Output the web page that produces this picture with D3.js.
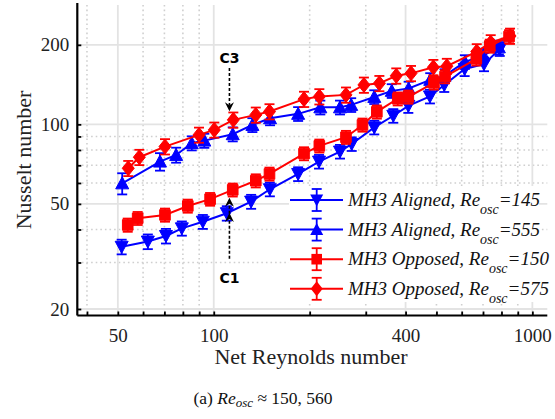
<!DOCTYPE html>
<html>
<head>
<meta charset="utf-8">
<script src="https://cdnjs.cloudflare.com/ajax/libs/d3/7.8.5/d3.min.js"></script>
<style>
    body { margin: 0; background: #fff; }
</style>
</head>
<body>
<div id="chart"></div>
<script>
// values
const reAligned145 = [51.4, 62.1, 70.8, 79.4, 92.4, 109.9, 131, 150, 184, 214, 249, 271, 319, 366, 408, 477, 529, 613, 705, 790];
const nuAligned145 = [34.4, 36.0, 37.8, 40.4, 42.8, 46.1, 51.0, 56.8, 64.9, 72.3, 78.9, 84.3, 97.4, 107.8, 117.5, 127.6, 141, 162, 169, 193];
const errAligned145 = [2.2, 2.3, 2.4, 2.5, 2.6, 2.9, 3.1, 3.4, 3.9, 4.3, 4.7, 5.0, 5.8, 6.4, 7.0, 7.6, 8.4, 9.7, 10.1, 11.5];

const reAligned555 = [51.6, 67.8, 76.2, 85.3, 93.4, 114.7, 132.2, 150.2, 184, 216, 249, 270, 319, 362, 409, 478, 530, 614, 702, 785];
const nuAligned555 = [59.8, 72.3, 76.6, 84.9, 86.8, 91.8, 99.5, 105.5, 109.6, 116, 116, 118.5, 127, 133.9, 136.8, 147.4, 152.6, 172.4, 182.4, 195.7];
const errAligned555 = [5.5, 5.5, 5.0, 5.2, 5.3, 5.6, 6.0, 6.3, 6.6, 7.0, 7.0, 7.1, 7.6, 8.0, 8.2, 8.8, 9.1, 10.3, 10.9, 11.7];

const reOpposed150 = [53.7, 57.7, 70.3, 82.9, 97.4, 114.7, 135.5, 149.6, 192, 214.5, 260, 293, 325, 378, 408, 491, 532, 667, 735, 845];
const nuOpposed150 = [41.6, 44.1, 45.4, 49.1, 52.1, 56.5, 61.2, 64.9, 77.5, 82.9, 89.4, 99.5, 111.5, 125, 127, 143.6, 151.7, 177, 198, 215];
const errOpposed150 = [2.4, 2.5, 2.6, 2.8, 2.9, 3.2, 3.5, 3.7, 4.4, 4.7, 5.1, 5.7, 6.4, 7.1, 7.3, 8.2, 8.7, 10.1, 11.3, 12.3];

const reOpposed575 = [53.9, 58.4, 70.3, 89.9, 100.4, 115.2, 135.5, 149.6, 192, 214.5, 260, 296, 331, 374, 416, 489, 539, 669, 740, 851];
const nuOpposed575 = [68.2, 75.1, 82.4, 91.2, 95.3, 104, 108.6, 111.8, 124.6, 127.4, 129.3, 141, 143, 152.7, 156, 164.4, 166, 188.6, 204, 216];
const errOpposed575 = [4.5, 5.0, 5.5, 6.0, 6.3, 6.9, 7.2, 7.4, 8.3, 8.5, 8.6, 9.4, 9.5, 10.2, 10.4, 11.0, 11.1, 12.6, 13.6, 14.4];

const seriesNames = ["MH3 Aligned, Re|osc|=145", "MH3 Aligned, Re|osc|=555", "MH3 Opposed, Re|osc|=150", "MH3 Opposed, Re|osc|=575"];

const xTickLabels = [50, 100, 400, 1000];
const xMinorTicks = [40, 60, 70, 80, 90, 200, 300, 500, 600, 700, 800, 900];
const yTickLabels = [20, 50, 100, 200];
const yMinorTicks = [30, 40, 60, 70, 80, 90];

const annotC3 = {label: "C3", re: 112, to: 112};
const annotC1 = {label: "C1", re: 112, from: 31, to: [46.2, 52.8]};

const SERIF = "'Liberation Serif', 'Times New Roman', serif";

let series = [
    {name: seriesNames[0], re: reAligned145, nu: nuAligned145, err: errAligned145, color: "#0000ff", marker: "down"},
    {name: seriesNames[1], re: reAligned555, nu: nuAligned555, err: errAligned555, color: "#0000ff", marker: "up"},
    {name: seriesNames[2], re: reOpposed150, nu: nuOpposed150, err: errOpposed150, color: "#ff0000", marker: "square"},
    {name: seriesNames[3], re: reOpposed575, nu: nuOpposed575, err: errOpposed575, color: "#ff0000", marker: "diamond"}
];

let width = 555, height = 419;
let plot = {left: 77.3, right: 547.3, top: 3, bottom: 315.5};

let svg = d3.select("#chart")
    .append("svg")
    .attr("width", width)
    .attr("height", height);

let x = d3.scaleLog()
    .domain([37.3, 1114])
    .range([plot.left, plot.right]);

let y = d3.scaleLog()
    .domain([18.9, 288])
    .range([plot.bottom, plot.top]);

// grid
let grid = svg.append("g");
grid.selectAll(".xminor")
    .data(xMinorTicks)
    .enter()
    .append("line")
    .attr("x1", d => x(d)).attr("x2", d => x(d))
    .attr("y1", plot.top + 2).attr("y2", plot.bottom)
    .attr("stroke", "#cfcfcf")
    .attr("stroke-width", 1.6)
    .attr("stroke-dasharray", "1.6,3");
grid.selectAll(".yminor")
    .data(yMinorTicks)
    .enter()
    .append("line")
    .attr("x1", plot.left).attr("x2", plot.right)
    .attr("y1", d => y(d)).attr("y2", d => y(d))
    .attr("stroke", "#cfcfcf")
    .attr("stroke-width", 1.6)
    .attr("stroke-dasharray", "1.6,3");
grid.selectAll(".xmajor")
    .data(xTickLabels)
    .enter()
    .append("line")
    .attr("x1", d => x(d)).attr("x2", d => x(d))
    .attr("y1", plot.top + 2).attr("y2", plot.bottom)
    .attr("stroke", "#e3e3e3")
    .attr("stroke-width", 1.8);
grid.selectAll(".ymajor")
    .data(yTickLabels)
    .enter()
    .append("line")
    .attr("x1", plot.left).attr("x2", plot.right)
    .attr("y1", d => y(d)).attr("y2", d => y(d))
    .attr("stroke", "#e3e3e3")
    .attr("stroke-width", 1.8);

// axes
let xAxis = svg.append("g")
    .attr("transform", `translate(0, ${plot.bottom})`)
    .call(d3.axisBottom(x)
        .tickValues(xTickLabels.concat(xMinorTicks))
        .tickSize(-4)
        .tickPadding(9)
        .tickFormat(d => xTickLabels.includes(d) ? d : ""));
xAxis.select(".domain").attr("stroke-width", 2.2).attr("d", `M${plot.left},0H${plot.right}`);
xAxis.selectAll(".tick line").attr("stroke-width", 1.8);
xAxis.selectAll(".tick text")
    .style("font-family", SERIF)
    .style("font-size", "19px")
    .attr("fill", "#222")
    .attr("dy", "0.9em");

let yAxis = svg.append("g")
    .attr("transform", `translate(${plot.left}, 0)`)
    .call(d3.axisLeft(y)
        .tickValues(yTickLabels.concat(yMinorTicks))
        .tickSize(-4)
        .tickPadding(8)
        .tickFormat(d => yTickLabels.includes(d) ? d : ""));
yAxis.select(".domain").attr("stroke-width", 2.2).attr("d", `M0,${plot.bottom}V${plot.top}`);
yAxis.selectAll(".tick line").attr("stroke-width", 1.8);
yAxis.selectAll(".tick text")
    .style("font-family", SERIF)
    .style("font-size", "19px")
    .attr("fill", "#222");

// axis titles
svg.append("text")
    .attr("x", 311)
    .attr("y", 364)
    .attr("text-anchor", "middle")
    .style("font-family", SERIF)
    .style("font-size", "22px")
    .attr("fill", "#222")
    .text("Net Reynolds number");

svg.append("text")
    .attr("transform", "translate(31, 160) rotate(-90)")
    .attr("text-anchor", "middle")
    .style("font-family", SERIF)
    .style("font-size", "22px")
    .attr("fill", "#222")
    .text("Nusselt number");

// caption
let cap = svg.append("text")
    .attr("x", 263)
    .attr("y", 404)
    .attr("text-anchor", "middle")
    .style("font-family", SERIF)
    .style("font-size", "17.5px")
    .attr("fill", "#111");
cap.append("tspan").text("(a) ");
cap.append("tspan").style("font-style", "italic").text("Re");
cap.append("tspan").style("font-style", "italic").style("font-size", "13px").attr("dy", 3).text("osc");
cap.append("tspan").attr("dy", -3).text(" \u2248 150,  560");

// markers
function markerPath(type) {
    if (type === "down") return "M-6.5,-5.5L6.5,-5.5L0,6.5Z";
    if (type === "up") return "M0,-6.5L6.5,5.5L-6.5,5.5Z";
    if (type === "square") return "M-5.3,-5.3H5.3V5.3H-5.3Z";
    return "M0,-7.5L6,0L0,7.5L-6,0Z";
}

let line = d3.line()
    .x(d => x(d.re))
    .y(d => y(d.nu));

let processData = series.map(s => {
    return {
        color: s.color,
        marker: s.marker,
        points: s.re.map((r, i) => ({re: r, nu: s.nu[i], err: s.err[i]}))
    };
});

processData.forEach(s => {
    let g = svg.append("g");
    g.append("path")
        .attr("d", line(s.points))
        .attr("fill", "none")
        .attr("stroke", s.color)
        .attr("stroke-width", 2);

    let bars = g.selectAll(".bar")
        .data(s.points)
        .enter()
        .append("g")
        .attr("stroke", s.color)
        .attr("stroke-width", 1.8);
    bars.append("line")
        .attr("x1", d => x(d.re)).attr("x2", d => x(d.re))
        .attr("y1", d => y(d.nu - d.err)).attr("y2", d => y(d.nu + d.err));
    bars.append("line")
        .attr("x1", d => x(d.re) - 5).attr("x2", d => x(d.re) + 5)
        .attr("y1", d => y(d.nu - d.err)).attr("y2", d => y(d.nu - d.err));
    bars.append("line")
        .attr("x1", d => x(d.re) - 5).attr("x2", d => x(d.re) + 5)
        .attr("y1", d => y(d.nu + d.err)).attr("y2", d => y(d.nu + d.err));

    g.selectAll(".mark")
        .data(s.points)
        .enter()
        .append("path")
        .attr("d", markerPath(s.marker))
        .attr("transform", d => `translate(${x(d.re)}, ${y(d.nu)})`)
        .attr("fill", s.color)
        .attr("stroke", s.color)
        .attr("stroke-width", 1);
});

// annotations
function arrowHead(g, ax, ay, dir) {
    // dir = 1 points down, -1 points up
    g.append("path")
        .attr("d", `M${ax},${ay}L${ax - 4.5},${ay - dir * 9}L${ax},${ay - dir * 6}L${ax + 4.5},${ay - dir * 9}Z`)
        .attr("fill", "#000");
}

let ann = svg.append("g");
let c3x = x(annotC3.re);
ann.append("text")
    .attr("x", c3x).attr("y", 63)
    .attr("text-anchor", "middle")
    .style("font-family", "'DejaVu Sans', sans-serif")
    .style("font-weight", "bold")
    .style("font-size", "14px")
    .text(annotC3.label);
ann.append("line")
    .attr("x1", c3x).attr("x2", c3x)
    .attr("y1", 68).attr("y2", y(annotC3.to) - 6)
    .attr("stroke", "#000").attr("stroke-width", 1.6)
    .attr("stroke-dasharray", "3,2");
arrowHead(ann, c3x, y(annotC3.to), 1);

let c1x = x(annotC1.re);
ann.append("text")
    .attr("x", c1x).attr("y", 283)
    .attr("text-anchor", "middle")
    .style("font-family", "'DejaVu Sans', sans-serif")
    .style("font-weight", "bold")
    .style("font-size", "14px")
    .text(annotC1.label);
ann.append("line")
    .attr("x1", c1x).attr("x2", c1x)
    .attr("y1", y(annotC1.from)).attr("y2", y(annotC1.to[1]) + 6)
    .attr("stroke", "#000").attr("stroke-width", 1.6)
    .attr("stroke-dasharray", "3,2");
annotC1.to.forEach(v => arrowHead(ann, c1x, y(v), -1));

// legend
let legend = svg.append("g");
legend.append("rect")
    .attr("x", 289).attr("y", 186)
    .attr("width", 250).attr("height", 116)
    .attr("fill", "#fff");

series.forEach((s, i) => {
    let ly = 200 + i * 29.6;
    let row = legend.append("g");
    row.append("line")
        .attr("x1", 290).attr("x2", 343)
        .attr("y1", ly).attr("y2", ly)
        .attr("stroke", s.color).attr("stroke-width", 2);
    row.append("line")
        .attr("x1", 316.7).attr("x2", 316.7)
        .attr("y1", ly - 11).attr("y2", ly + 11)
        .attr("stroke", s.color).attr("stroke-width", 1.8);
    [-11, 11].forEach(o => {
        row.append("line")
            .attr("x1", 311.7).attr("x2", 321.7)
            .attr("y1", ly + o).attr("y2", ly + o)
            .attr("stroke", s.color).attr("stroke-width", 1.8);
    });
    row.append("path")
        .attr("d", markerPath(s.marker))
        .attr("transform", `translate(316.7, ${ly})`)
        .attr("fill", s.color);

    let parts = s.name.split("|");
    let t = row.append("text")
        .attr("x", 348)
        .attr("y", ly + 6)
        .style("font-family", SERIF)
        .style("font-size", "19px")
        .style("font-style", "italic")
        .attr("fill", "#111");
    t.append("tspan").text(parts[0]);
    t.append("tspan").style("font-size", "14px").attr("dy", 8).text(parts[1]);
    t.append("tspan").attr("dy", -8).text(parts[2]);
});
</script>
</body>
</html>
